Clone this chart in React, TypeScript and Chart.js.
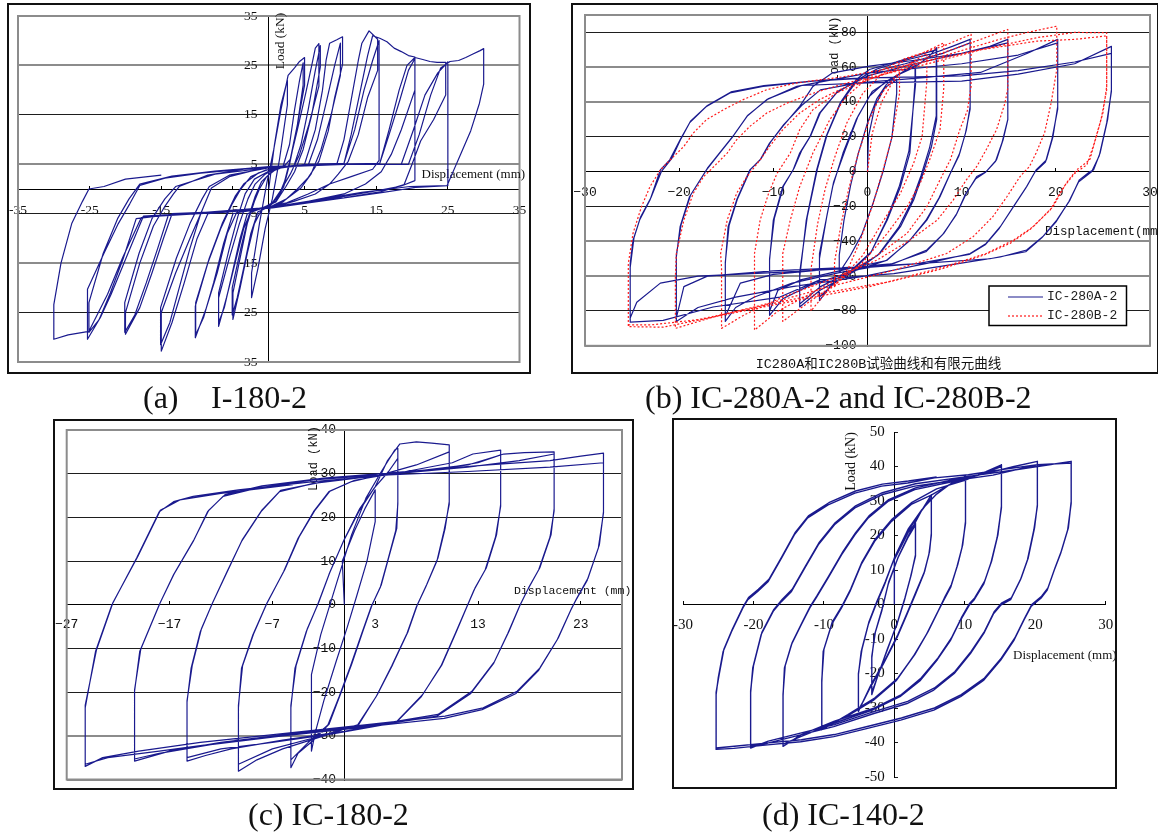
import React, { useEffect, useRef } from 'react';
import { Chart, registerables } from 'chart.js';
Chart.register(...registerables);

type Pt = [number, number];

// ---------------- DATA ----------------
// (a) I-180-2 : displacement (mm), load (kN)
const I180_2: Pt[] = [
  [0,0],[0.8,9],[1.7,17],[2.6,22],[2.6,17],[1.5,6],[0.5,-2],[-0.5,-8],[-1.5,-16],[-2.4,-22],
  [-2.4,-17],[-1.3,-7],[-0.3,1],[0.7,8],[1.7,16],[2.7,23],
  [3.6,24.5],[4.3,25.8],[5,26.6],
  [5,21],[4,13],[3,6],[2.2,1.5],[1.5,-1],[0.5,-3],[-1,-4.2],
  [-2,-7],[-3,-13],[-4,-20],[-5,-26.4],
  [-5,-21],[-4,-14],[-3,-7],[-2,-2.5],[-1.3,0],[-0.3,2.5],[1,4],[2,4.6],
  [2.9,9],[3.6,16],[4.3,22],[4.8,25.5],
  [4.8,21],[3.9,12],[2.9,5],[2.1,0.5],[1,-2.5],[-0.5,-4],[-1.5,-4.6],
  [-2.5,-9],[-3.5,-16],[-4.4,-22],[-5.1,-25.5],
  [-5.1,-20],[-3.9,-12],[-2.9,-6],[-1.9,-1.5],[-1,1.5],[0.5,3.6],[2,4.4],
  [3,6],[4,12],[5.1,19],[6,25],[6.5,28.5],[7,29.4],
  [7,20.8],[5.6,13],[4.3,7],[3,3],[1.8,0],[0.5,-2.8],[-1,-4],[-2.5,-4.6],
  [-3.5,-8],[-4.7,-15],[-5.9,-22],[-7,-27.8],
  [-7,-22],[-5.5,-14],[-4.1,-7],[-2.9,-2],[-1.9,1],[-0.5,3],[1,4.2],[3.5,4.6],
  [4.5,9],[5.5,16],[6.5,24],[7.2,29],
  [7.2,24.7],[6,15],[4.8,8],[3.6,3.5],[2.4,0.5],[1,-2.6],[-1.5,-4.2],[-3,-5],
  [-4,-10],[-5.1,-17],[-6.2,-24],[-7,-27],
  [-7,-21],[-5.5,-12],[-4.3,-5.5],[-3.3,-1],[-2,2],[0.5,4],[3.5,4.6],[5,5],
  [6.5,12],[7.5,20],[8,26],[8.5,29.5],[9.5,30.2],[10.3,30.8],
  [10.3,25.2],[9.2,18.5],[8.3,11.7],[7,5.6],[5.5,2.3],[4,0],[2,-2.6],[0.5,-3.6],[-2.5,-4.4],[-4.5,-4.8],
  [-5.8,-9],[-7.2,-17],[-8.7,-24],[-10.25,-30.1],
  [-10.25,-23.7],[-8.5,-15],[-6.7,-8],[-5.1,-3],[-3.9,0],[-2.5,2.5],[-0.5,3.8],[2.5,4.4],[5.5,4.8],
  [6.8,10],[8.1,18],[9.2,25],[10,29.5],
  [10,23],[8.7,15],[7.3,8],[5.9,3],[4.5,0.2],[2.5,-2],[0.5,-3.4],[-2.5,-4.2],[-5,-5],
  [-6.3,-11],[-7.7,-19],[-9.1,-26],[-10.2,-29.5],
  [-10.2,-23],[-8.3,-14],[-6.5,-7],[-4.7,-1.5],[-3.5,1],[-1.5,3.2],[0.5,4.2],[4.5,4.8],[9.5,5],
  [10.5,10],[11.5,18],[12.5,26],[13,29.5],[14,32],[15.2,30.3],
  [15.2,24],[13.8,18.5],[12.5,11],[11.1,5.6],[9.7,3],[8.5,1],[6.5,-1],[3.5,-2.5],[0.5,-3.7],[-3.5,-4.4],[-8.5,-5],
  [-10,-10],[-11.8,-19],[-13.5,-27],[-15,-32.8],
  [-15,-25],[-13,-17],[-11,-10],[-9.5,-5],[-8.5,-1.5],[-8,0.2],[-5.5,2.5],[-2.5,3.6],[0.5,4.4],[5.5,5],[10.5,5.2],
  [12,12],[13.3,20],[14.5,26],[15.4,30],
  [15.4,5.8],[14.5,4],[11.5,2.5],[8.5,1],[5.5,-1],[2.5,-2.8],[-1.5,-4],[-6.5,-4.6],[-9.5,-5],
  [-11,-12],[-12.5,-20],[-13.8,-27],[-15.1,-31.5],
  [-15.1,-24],[-12.9,-14],[-11,-7],[-9.3,-2],[-8.3,0.5],[-5.5,2.8],[0.5,4.4],[8.5,5],[10.5,5.2],
  [11.5,11],[12.8,20],[13.8,27],[14.5,31],[15.5,30.5],[16.5,29.8],[17.5,28.5],[18.5,27.8],[19.5,27],[20.4,26.7],
  [20.4,20],[18.5,12],[17.1,7],[15.7,3.5],[13.5,1],[10.5,-1],[5.5,-2.5],[0.5,-3.8],[-5.5,-4.5],[-13.5,-5],
  [-14.7,-10],[-16.3,-17],[-18,-24],[-20,-29.4],
  [-20,-25],[-18,-15],[-16.1,-7.5],[-14.5,-3.5],[-13.3,-1],[-12.5,0.5],[-8.5,2.8],[-3.5,4],[0.5,4.5],[8.5,5],[15.5,5.2],
  [16.8,11],[18.3,18],[19.5,24],[20.4,26.4],
  [20.4,1.7],[18.5,0.6],[14.5,-0.5],[10.5,-1.5],[5.5,-2.6],[0.5,-3.8],[-7.5,-4.8],[-14,-5.2],
  [-15.5,-12],[-17.1,-19],[-18.7,-25.5],[-20.1,-29],
  [-20.1,-23],[-18.1,-13],[-16.3,-6],[-14.5,-2],[-13,0.5],[-7.5,3],[0.5,4.4],[10.5,5],[15.5,5.2],
  [16.8,12],[18.2,20],[19.3,25],[20.4,26.6],[21.5,26.2],[22.5,25.8],[23.5,25.6],[24.7,25.6],
  [24.7,19],[23,14],[21.2,9.7],[20,5],[18.9,0.9],[15.5,-0.6],[10.5,-1.8],[4.5,-3],[0.5,-3.8],[-7.5,-4.6],[-17.5,-5.5],
  [-19.9,-13.9],[-22,-21.3],[-23.5,-26],[-25.3,-30.4],
  [-25.3,-20.3],[-23,-13],[-21,-7],[-19.4,-3],[-18,0.7],[-14.5,2.2],[-9.5,3.2],[-3.5,4],[0.5,4.5],[10.5,5],[18.5,5],
  [20.2,12],[21.8,19],[23.6,23.5],[25,25.7],
  [25,0.7],[20.5,0.3],[15.5,-0.8],[10.5,-1.8],[6.4,-2.4],[0.5,-3.7],[-7.5,-4.8],[-15.5,-5.5],[-18.5,-6],
  [-20.3,-14],[-22.1,-21],[-23.7,-26.5],[-25.1,-29],
  [-25.1,-23],[-23.1,-13],[-21.1,-6],[-19.5,-2],[-18,1],[-13.5,2.6],[-7.5,3.6],[0.5,4.6],[10.5,5],[19.5,5],
  [21,11],[22.6,19],[24,24.5],[25.3,25.8],[26.5,26],[27.5,26.6],[28.5,27.3],[29.5,28],[30,28.4],
  [30,21.2],[29.4,17.3],[28.2,11.8],[26.8,7.1],[25.4,2.4],[24.9,0.7],[19.7,0.5],[13,-0.7],[5.9,-2.4],[0.2,-3.7],[-8,-4.6],[-17.8,-5.8],
  [-20.4,-13.9],[-22.5,-21.3],[-25.1,-28.8],[-28,-29.5],[-30,-30.4],
  [-30,-23.4],[-29,-15],[-27.5,-7],[-26,-2.5],[-25.1,0],[-23,0.5],[-20,2],[-15,2.8],
];

// (b) IC-280A-2 (test, solid blue)
const IC280A_2: Pt[] = [
  [0,0],[0.1,20],[0.8,38],[1.8,48],[3.1,53],
  [3.1,45],[2.6,20],[1.7,1],[0.6,-18],[-0.6,-36],[-1.8,-48],[-3,-58],
  [-3,-48],[-2.5,-28],[-1.8,-8],[-1,10],[0,28],[1,42],[2,50],[3.1,55],
  [4.2,59],[5.05,62.5],
  [5.05,52],[4.5,10.7],[3.5,-8.6],[2.1,-27.8],[0.3,-47],[-1.5,-56],[-3.5,-64],[-5.1,-72],
  [-5.1,-47],[-4.4,-27.8],[-3.7,-8.6],[-2.6,10.7],[-1.2,29.9],[0.2,43.3],[2,52],[4,58],[5.1,61],
  [5.1,50],[4.4,12],[3.4,-8],[2,-28],[0.4,-46],[-2,-58],[-4,-66],[-5.1,-74],
  [-5.1,-50],[-4.3,-25],[-3.6,-6],[-2.4,12],[-1,32],[0.5,46],[3,55],
  [5,60],[6.5,66],[7.35,71.2],
  [7.35,30],[6.8,14.5],[5.9,-0.9],[4.9,-16.3],[3.5,-31.6],[1.3,-47],[-1,-56],[-3,-62],[-5,-68],[-7.2,-77.7],
  [-7.2,-60.5],[-6.5,-27.8],[-5.4,1],[-4.4,20.2],[-2.9,39.5],[-1.2,52.9],[0.2,58.7],[3,63],[6,68],[7.3,70],
  [7.3,32],[6.6,14],[5.7,-2],[4.7,-17],[3.3,-32],[1.1,-48],[-2,-58],[-5,-66],[-7.2,-76],
  [-7.2,-58],[-6.4,-26],[-5.3,2],[-4.3,21],[-2.8,40],[-1,53],[1,59],[4,64],
  [7,68],[9,72],[10.9,76],
  [10.9,37.5],[10.5,24],[9.8,10.7],[8.8,-0.9],[7.7,-14.4],[6.3,-27.8],[4.5,-39.3],[2.1,-50.8],[-2,-58],[-6,-65],[-9,-73],[-10.4,-82.5],
  [-10.4,-50.8],[-10,-27.8],[-9,-8.6],[-7.9,1],[-7.2,10.7],[-6.1,20.2],[-5.1,33.7],[-3.3,45.2],[0.2,56.8],[4,62],[8,68],[10.9,74],
  [10.9,36],[10.4,22],[9.7,9],[8.7,-2],[7.6,-15],[6.2,-28],[4.4,-40],[2,-51],[-3,-57],[-7,-62],[-9.5,-68],[-10.4,-80],
  [-10.4,-50],[-9.9,-27],[-8.9,-8],[-7.8,2],[-7,12],[-6,21],[-5,34],[-3.2,46],[0,55],[5,62],
  [10,68],[13,72],[14.9,76],
  [14.9,29.9],[14.4,18.3],[13.7,6.8],[12.6,0],[11.6,-2.8],[10.5,-12.4],[9.5,-23.9],[8.1,-35.4],[6.3,-45],[2.8,-52.7],[-3,-58],[-8,-64],[-12,-72],[-14,-78],[-15.1,-86],
  [-15.1,-52.7],[-14.8,-31.6],[-13.9,-16.3],[-12.5,1],[-11.4,6.8],[-10.4,16.4],[-9,26],[-7.2,37.5],[-5.8,49],[-3.7,56.8],[0.2,60.6],[5,64],[10,68],[14.9,74],
  [14.9,30],[14.3,17],[13.6,6],[12.5,-0.5],[11.5,-4],[10.4,-13],[9.4,-25],[8,-36],[6.2,-46],[2.5,-53],[-4,-56],[-10,-59],[-13.5,-64],[-15.1,-83],
  [-15.1,-52],[-14.7,-31],[-13.8,-15.5],[-12.4,1.5],[-11.3,7.5],[-10.3,17],[-8.9,27],[-7,38],[-5,47],[-1,51],[6,54],[12,57],
  [17,68],[20.2,76],
  [20.2,37.5],[19.7,20.2],[19,6.8],[17.9,1],[16.9,-8.6],[15.5,-20.1],[14.1,-31.6],[12.6,-41.2],[10.9,-47],[6.3,-52.7],[-0.8,-60.5],[-8,-66],[-14,-72],[-18,-78],[-20.3,-86],
  [-20.3,-49],[-19.9,-31.6],[-18.9,-14.4],[-17.1,1],[-15.7,10.7],[-14.3,20.2],[-12.8,31.8],[-10.7,41.4],[-7.5,49],[0.2,56.8],[10,62],[16,67],[20.2,74],
  [20.2,36],[19.6,19],[18.9,5.5],[17.8,0],[16.8,-9.5],[15.4,-21],[14,-32.5],[12.5,-42],[10.8,-47.5],[5,-53],[-2,-55],[-10,-57],[-17,-60],[-19.5,-66],[-20.3,-84],
  [-20.3,-48],[-19.8,-30.5],[-18.8,-13.5],[-17,2],[-15.6,11.5],[-14.2,21],[-12.7,32.5],[-10.5,42],[-7,49.5],[0,51],[10,52],[16,56],[22,62],
  [25.9,72],
  [25.9,47],[25.5,29.9],[24.7,10.7],[24,1],[23.6,0],[22.5,-4.7],[21.5,-16.3],[20.1,-27.8],[18.6,-37.4],[16.9,-45],[14.1,-49],[9.8,-52.7],[2.8,-58.5],[-5,-62],[-9.3,-72],[-16.4,-77.7],[-21.7,-85.4],[-25.2,-86.4],
  [-25.2,-52.7],[-24.9,-39.3],[-24.2,-27.8],[-23.1,-16.3],[-22,1],[-21,6.8],[-19.9,18.3],[-18.9,28],[-17.1,37.5],[-14.6,45.2],[-11.1,49],[-5.8,52],[0.2,53.9],[10,55],[16,58],[22,63],[25.9,68],
  [25.9,46],[25.4,28],[24.6,9],[23.8,0],[22.4,-6],[21.4,-17],[20,-29],[18.5,-38],[16.8,-46],[13,-50],[5,-53],[0,-55],[-10,-58],[-18,-60],[-22,-64],[-24.5,-75],[-25.2,-84],
  [-25.2,-55],[-24.8,-38],[-24.1,-26],[-23,-15],[-21.9,0],[-20.8,7.5],[-19.8,19],[-18.8,29],[-17,38],[-14.5,45.8],[-11,49.5],[-5,52.5],[0,54],
];

// (b) IC-280B-2 (finite element, dotted red)
const IC280B_2: Pt[] = [
  [0,0],[0.5,22],[1.5,40],[2.5,50],[3.4,56],
  [3.4,45],[2.6,20],[1.6,0],[0.5,-20],[-0.8,-40],[-2,-55],[-3.5,-66],
  [-3.5,-52],[-2.8,-30],[-2,-10],[-1,10],[0.2,30],[1.5,45],[3,55],[4.5,62],[6.3,68],
  [6.3,52],[5.8,20.2],[4.9,4.9],[3.5,-12.4],[1.3,-31.6],[-0.5,-48],[-2.5,-60],[-4.5,-70],[-6,-80],
  [-6,-56],[-5.3,-30],[-4.5,-10],[-3.5,8],[-2.2,28],[-0.5,45],[1.5,56],[4,64],[6.2,69],[8.1,74],
  [8.1,48],[7.7,24.1],[6.6,6.8],[5.6,-6.6],[4.2,-20.1],[2.1,-35.4],[-0.5,-52],[-3,-63],[-6,-74],[-9,-86],
  [-9,-47],[-8.2,-27.8],[-7.2,-8.6],[-5.8,10.7],[-4,29.9],[-2.2,43.3],[0.2,54.8],[4,65],[8,72],[11,78.9],
  [11,49],[10.6,35],[9.8,24.1],[8.8,6.8],[7.7,-4.7],[6.3,-20.1],[4.2,-35.4],[1.3,-47],[-2,-58],[-6,-70],[-9.5,-80],[-12,-91],
  [-12,-47],[-11.4,-27.8],[-10.5,-12.4],[-9.6,-0.9],[-8.2,10.7],[-7.2,24.1],[-5.8,35.6],[-3.3,45.2],[0.2,52.9],[5,63],[10,72],[14.9,81.7],
  [14.9,48],[14.6,39.5],[13.7,24.1],[12.6,12.6],[11.6,3],[10.5,-4.7],[9.1,-16.3],[7.4,-27.8],[4.5,-39.3],[1,-50.8],[-4,-62],[-9,-72],[-13,-82],[-15.5,-90],
  [-15.5,-55],[-15.6,-47],[-14.9,-27.8],[-13.9,-12.4],[-12.8,-2.8],[-11.4,6.8],[-10.4,14.5],[-9,24.1],[-7.2,33.7],[-5.1,41.4],[-2.2,49],[3,58],[9,68],[14,76],[17,80],[20.1,83.6],
  [20.1,58.7],[19.5,39.5],[18.8,22.2],[17.9,10.7],[17.2,3],[16.2,-2.8],[14.8,-14.4],[13.3,-25.9],[11.2,-37.4],[8.4,-47],[2.8,-56.6],[-4,-66],[-10,-75],[-16.4,-83.5],[-20.4,-90],
  [-20.4,-60],[-20.3,-47],[-19.5,-27.8],[-18.5,-12.4],[-17.4,-2.8],[-16.3,3],[-14.9,10.7],[-13.9,18.3],[-12.5,26],[-10.7,33.7],[-8.5,39.5],[-5.7,45.2],[-2.2,51],[5,60],[12,70],[18,77],[22,80],[25.4,79.8],
  [25.4,49],[25,33.7],[24.3,20.2],[23.6,6.8],[22.2,1],[21.1,-6.6],[19.7,-20.1],[17.6,-31.6],[15.5,-39.3],[12.6,-47],[8.1,-54.7],[2.8,-62.4],[0.2,-66],[-9.3,-75.8],[-16.4,-83.5],[-21.7,-89.3],[-25.4,-89],
  [-25.4,-52.7],[-24.9,-35.4],[-24,-20.1],[-23.1,-8.6],[-22,1],[-20.6,8.7],[-19.5,14.5],[-18.5,22.2],[-17.1,29.9],[-15.3,35.6],[-13.2,41.4],[-10.7,47.1],[-7.5,51],[-2.2,54.8],[5,62],[12,70],[18,75],[22,76],[25.4,78],
  [25.4,47],[24.8,30],[24,15],[23.3,4],[22,-1],[20.8,-9],[19.4,-22],[17.3,-33],[15.2,-41],[12.3,-48],[7.8,-56],[2.5,-63],[-5,-70],[-12,-78],[-18,-85],[-23,-88],[-25.4,-88],
];

// (c) IC-180-2
const IC180_2: Pt[] = [
  [0,0],[-0.2,10],[1,17],[2,22],[3,26.3],
  [3,19],[2.2,10],[1.2,2],[0.3,-5],[-0.8,-13],[-2,-22],[-2.8,-29],[-3.2,-33.5],
  [-3.2,-16],[-2.3,-6.9],[-0.8,4.6],[0.7,16],[2.1,24.4],[3.6,30.5],[4.9,35.4],[5.2,35.8],
  [5.2,23.6],[5.1,17.5],[4.3,10.7],[3.6,4.6],[2.7,0],[1.8,-6.1],[0.7,-13.7],[-0.4,-20.6],[-1.5,-27.4],[-3,-31],[-4.5,-34],[-5.2,-37.3],
  [-5.2,-23.6],[-4.8,-14.5],[-3.7,-6.1],[-2.6,0],[-1.5,6.9],[-0.1,14.5],[1.4,21.3],[2.9,26.7],[4.3,30.5],[5.2,33.5],
  [5.2,23],[5,17],[4.2,10],[3.5,4],[2.6,-0.5],[1.7,-6.5],[0.6,-14],[-0.5,-21],[-1.6,-27.5],[-3.5,-31.5],[-5.2,-35.5],
  [-5.2,-23],[-4.7,-14],[-3.6,-5.5],[-2.5,0.5],[-1.4,7.5],[0,15],[1.5,22],[3,27],[4.2,33],[5.4,36.8],[7,37.3],[8.5,37],[10.2,36.6],
  [10.2,23.6],[9.8,17.5],[9.1,10.7],[8,4.6],[7.1,0],[6.2,-6.1],[4.7,-13.7],[3.2,-20.6],[1.4,-27.4],[-2,-30],[-6,-33],[-8.5,-35.5],[-10.3,-38.1],
  [-10.3,-23.6],[-10,-14.5],[-8.9,-6.9],[-7.6,0],[-5.9,7.6],[-4.5,15.2],[-3,21.3],[-1.5,25.9],[0.7,28.2],[4,30],[7,32],[10.2,35],
  [10.2,23],[9.7,17],[9,10],[7.9,4],[7,-0.5],[6.1,-6.5],[4.6,-14],[3.1,-21],[1.3,-27.5],[-3,-30.5],[-7,-33],[-10.3,-36.5],
  [-10.3,-23],[-9.9,-14],[-8.8,-6.5],[-7.5,0.5],[-5.8,8],[-4.4,15.5],[-2.9,21.5],[-1.4,26],[1,28.5],[6,30.5],[10.5,32.5],[12.5,34.5],[15.2,35.4],
  [15.2,22.9],[14.8,16],[13.8,8.4],[12.7,3.8],[12,0],[10.9,-6.1],[9.5,-13.7],[7.6,-20.6],[5.1,-26.7],[0,-29],[-6,-31],[-11,-33],[-13.5,-34.5],[-15.3,-35.8],
  [-15.3,-22.3],[-14.9,-14.5],[-14,-6.1],[-12.9,0],[-11.4,7.6],[-10,14.5],[-8.1,21.3],[-6.3,25.9],[-3,27.8],[3,29.5],[9,31],[13,32.5],[15.2,34.3],
  [15.2,22.5],[14.7,15.5],[13.7,8],[12.6,3.3],[11.9,-0.5],[10.8,-6.5],[9.4,-14],[7.5,-21],[5,-27],[-1,-29.5],[-7,-31.5],[-12,-33],[-15.3,-35],
  [-15.3,-22],[-14.8,-14],[-13.9,-5.5],[-12.8,0.5],[-11.3,8],[-9.9,15],[-8,21.7],[-6.2,26.2],[-2,28.2],[5,30],[12,32],[15.5,34.5],[17.5,34.8],[20.4,35],
  [20.4,22],[20.1,16],[19,8.4],[17.9,3.8],[17.1,0],[16,-6.1],[14.6,-13],[12.4,-19.8],[9.1,-25.1],[3,-27.5],[-5,-29.5],[-12,-31.5],[-17,-33.5],[-20.4,-35.8],
  [-20.4,-19.8],[-19.9,-10.7],[-18,0],[-16.6,6.9],[-14.7,14.5],[-13.3,21.3],[-11.8,24.8],[-8.5,26.7],[-3,28.6],[5,30],[12,31.5],[17,33],[20.4,34.5],
  [20.4,21.5],[20,15.5],[18.9,8],[17.8,3.3],[17,-0.5],[15.9,-6.5],[14.5,-13.5],[12.3,-20.3],[9,-25.5],[2,-28],[-6,-30],[-13,-32],[-18,-34],[-20.4,-35.3],
  [-20.4,-19.5],[-19.8,-10.2],[-17.9,0.5],[-16.5,7.3],[-14.6,15],[-13.2,21.6],[-11.6,25.2],[-8,27.2],[-2,29],[6,30.5],[14,32],[20,33],[23,34],[25.2,34.7],
  [25.2,21.3],[24.8,13.7],[23.7,6.1],[22.6,1.5],[22.1,-0.8],[20.8,-7.6],[19,-14.5],[16.8,-19.8],[13.5,-23.6],[9.8,-25.5],[2,-27.5],[-6,-29.5],[-14,-31.5],[-20,-33.5],[-23.5,-35],[-25.2,-37],
  [-25.2,-23.6],[-24.2,-10.7],[-22.6,0],[-20.2,10.7],[-18,21.3],[-16.6,23.6],[-14.7,24.8],[-10.3,26.3],[-3,28.2],[4.3,29.7],[12,30.5],[20,31.5],[25.2,32.5],
  [25.2,21],[24.7,13],[23.6,5.5],[22.5,1],[22,-1.3],[20.7,-8],[18.9,-15],[16.7,-20.3],[13.4,-24],[9.7,-26],[0,-28.5],[-10,-31],[-18,-33.5],[-23,-35],[-25.2,-36.5],
  [-25.2,-23],[-24.1,-10.3],[-22.5,0.5],[-20.1,11],[-17.9,21.6],[-16,24],[-12,25.5],[-5,27.5],
];

// (d) IC-140-2
const IC140_2: Pt[] = [
  [0,0],[0,13],[1,17],[2,21],[3,23.6],
  [3,14.4],[2.4,8.7],[1.5,1.9],[0.5,-4.8],[-0.9,-12.6],[-2.3,-20.3],[-3.2,-26.1],
  [-3.2,-15.5],[-2.8,-8.7],[-1.8,-2],[-0.9,5.7],[0.5,13.5],[1.9,19.3],[3,23.1],
  [3,14],[2.3,8],[1.4,1],[0.4,-5.5],[-1,-13],[-2.4,-21],[-3.2,-25.5],
  [-3.2,-15],[-2.7,-8],[-1.7,-1],[-0.8,6.5],[0.6,14],[2,20],[3.8,27],[5.25,31.8],
  [5.25,20.7],[5,15.4],[4.3,9.6],[3.1,3.8],[1.9,-2],[0.5,-8.7],[-1.4,-16.4],[-3.3,-23.2],[-4.3,-27.5],[-5.1,-31],
  [-5.1,-20.3],[-4.7,-13.6],[-3.7,-5.8],[-2.6,0],[-1.4,5.7],[0,13.5],[1.9,21.2],[3.8,27],[5.25,30.9],
  [5.25,20],[4.9,14.5],[4.2,9],[3,3],[1.8,-2.8],[0.4,-9.5],[-1.5,-17],[-3.4,-24],[-4.4,-28],[-5.1,-30.5],
  [-5.1,-20],[-4.6,-13],[-3.6,-5],[-2.5,0.8],[-1.3,6.5],[0.1,14],[2,22],[3.9,27.5],[6,32],[8,35],[10.1,37.2],
  [10.1,24.1],[9.7,17.3],[9,11.6],[8.1,5.8],[7.1,1.9],[6.2,-2],[4.8,-7.8],[2.9,-14.5],[0.5,-21.3],[-2.8,-27.1],[-6.6,-31.9],[-10.3,-36.3],
  [-10.3,-22.7],[-10.1,-13.6],[-8.9,-5.8],[-7.5,-1],[-6.3,3.8],[-4.7,11.6],[-2.8,18.3],[-0.4,24.1],[2.4,29],[5.3,31.8],[8,35],[10.1,36.5],
  [10.1,23.5],[9.6,16.5],[8.9,11],[8,5],[7,1.2],[6,-2.8],[4.6,-8.5],[2.7,-15],[0.3,-22],[-3,-27.8],[-6.8,-32.5],[-10.3,-35.5],
  [-10.3,-22],[-10,-13],[-8.8,-5],[-7.4,-0.3],[-6.2,4.5],[-4.6,12.3],[-2.7,19],[-0.3,24.8],[2.5,29.6],[6,33.5],[10,36],[13,38.5],[15.2,40.5],
  [15.2,28.5],[14.7,20.2],[13.8,12.5],[12.8,6.7],[11.4,1.9],[10.7,0.4],[9.5,-3.9],[8.1,-9.7],[6.2,-15.5],[3.8,-21.3],[1,-26.1],[-2.8,-30],[-8.5,-33.8],[-13.2,-37.7],[-15.8,-41.1],
  [-15.8,-26.6],[-15.6,-18.4],[-14.6,-11.6],[-13.2,-5.8],[-12,-1],[-11.1,1.9],[-9.4,7.7],[-7.5,14.4],[-5.6,20.2],[-3.7,25.1],[-0.9,29.9],[2.9,33.3],[8,35.5],[12,37.5],[15.2,40],
  [15.2,28],[14.6,19.5],[13.7,12],[12.7,6],[11.3,1.3],[10.6,-0.3],[9.4,-4.5],[8,-10.3],[6.1,-16],[3.7,-22],[0.8,-26.7],[-3,-30.5],[-8.7,-34.5],[-13.3,-38.3],[-15.8,-40.5],
  [-15.8,-26],[-15.5,-17.8],[-14.5,-11],[-13.1,-5.2],[-11.9,-0.4],[-11,2.5],[-9.3,8.3],[-7.4,15],[-5.5,20.8],[-3.6,25.7],[-0.8,30.4],[3,33.8],[8,36],[13,38],[17,40],[20.3,41.5],
  [20.3,28.9],[19.9,22.2],[19,13.5],[18,7.7],[16.6,1.9],[15.2,0.4],[14.2,-2],[12.8,-7.8],[10.9,-13.6],[8.6,-19.4],[5.7,-24.2],[1.9,-28.1],[-2.8,-31],[-8.5,-34.8],[-13.2,-37.2],[-17.9,-39.6],[-20.4,-41.6],
  [-20.4,-25.6],[-20.1,-18.4],[-18.9,-8.7],[-17.2,-2],[-16,0.9],[-14.6,3.8],[-12.7,10.6],[-10.8,17.3],[-8.5,23.1],[-5.6,28],[-1.8,31.8],[2.9,34.3],[8,35.8],[14,37.5],[20.3,40.5],
  [20.3,28.5],[19.8,21.6],[18.9,13],[17.9,7.2],[16.5,1.4],[15.1,-0.2],[14.1,-2.6],[12.7,-8.4],[10.8,-14.2],[8.5,-20],[5.6,-24.8],[1.8,-28.7],[-2.9,-31.6],[-8.6,-35.4],[-13.3,-37.8],[-18,-40.2],[-20.4,-41],
  [-20.4,-25],[-20,-17.8],[-18.8,-8.1],[-17.1,-1.4],[-15.9,1.5],[-14.5,4.4],[-12.6,11.2],[-10.7,17.9],[-8.4,23.7],[-5.5,28.6],[-1.7,32.4],[3,35],[10,37],[17,39],[22,40.5],[25.1,41.5],
  [25.1,29.9],[24.7,22.2],[23.7,15.4],[22.8,10.6],[21.8,4.8],[20.9,2.4],[19.5,0],[18.5,-3.9],[17.1,-9.7],[15.2,-15.5],[12.8,-21.3],[9.5,-26.1],[5.7,-30],[1,-32.9],[-3.7,-35.3],[-8.5,-37.7],[-13.2,-39.2],[-17.9,-40.1],[-22.7,-41.1],[-25.3,-41.6],
  [-25.3,-26.1],[-25,-21.3],[-24.3,-13.6],[-23.1,-7.8],[-21.5,-1],[-20.8,1.4],[-19.4,3.8],[-17.9,6.7],[-16,13.5],[-14.2,20.2],[-12.3,25.1],[-9.4,28.9],[-5.6,32.3],[-1.8,34.3],[1.9,35.2],[5.7,36.7],[10.5,37.6],[15.2,39.1],[20.3,40.5],[25.1,41],
  [25.1,29.3],[24.6,21.6],[23.6,14.8],[22.7,10],[21.7,4.2],[20.8,1.8],[19.4,-0.6],[18.4,-4.5],[17,-10.3],[15.1,-16.1],[12.7,-21.9],[9.4,-26.7],[5.6,-30.6],[0.9,-33.5],[-3.8,-35.9],[-8.6,-38.3],[-13.3,-39.8],[-18,-40.7],[-22.8,-41.7],[-25.3,-42],
  [-25.3,-25.5],[-24.9,-20.7],[-24.2,-13],[-23,-7.2],[-21.4,-0.4],[-20.7,2],[-19.3,4.4],[-17.8,7.3],[-15.9,14.1],[-14.1,20.8],[-12.2,25.7],[-9.3,29.5],[-5.5,32.9],[-1.7,34.9],[2,35.8],[6,37],
];

// tick labels
const A_X_TICKS = [-35, -25, -15, -5, 5, 15, 25, 35];
const A_Y_TICKS = [-35, -25, -15, -5, 5, 15, 25, 35];
const B_X_TICKS = [-30, -20, -10, 0, 10, 20, 30];
const B_Y_TICKS = [-100, -80, -60, -40, -20, 0, 20, 40, 60, 80];
const C_X_TICKS = [-27, -17, -7, 3, 13, 23];
const C_Y_TICKS = [-40, -30, -20, -10, 0, 10, 20, 30, 40];
const D_X_TICKS = [-30, -20, -10, 0, 10, 20, 30];
const D_Y_TICKS = [-50, -40, -30, -20, -10, 0, 10, 20, 30, 40, 50];

const SERIES_A_LABEL = 'IC-280A-2';
const SERIES_B_LABEL = 'IC-280B-2';

// ---------------- LAYOUT / STYLE ----------------
const M = 16;
const BLUE = '#1a1a8e';
const RED = '#ff1a1a';
const GRAY = '#8c8c8c';
const DARK = '#1e1e1e';

interface TextSpec { text: string; x: number; y: number; font: string; rotate?: boolean; }
interface SeriesSpec { label: string; data: Pt[]; color: string; dash?: number[]; order: number; width: number; }
interface PanelSpec {
  frame: { l: number; t: number; w: number; h: number };
  area: { l: number; t: number; r: number; b: number };
  xMin: number; xMax: number; yMin: number; yMax: number;
  xTicks: number[]; yTicks: number[];
  fontFamily: string; fontSize: number; minus: string;
  xPad: number; yGap: number;
  grid: boolean; grayGrid: number[];
  plotBorder: boolean;
  texts: TextSpec[];
  series: SeriesSpec[];
  legend?: { l: number; t: number; r: number; b: number; lx1: number; lx2: number; tx: number; ys: number[]; font: string };
}

const PANELS: PanelSpec[] = [
  {
    frame: { l: 7, t: 3, w: 524, h: 371 },
    area: { l: 18, t: 16, r: 519.5, b: 362 },
    xMin: -35, xMax: 35, yMin: -35, yMax: 35,
    xTicks: A_X_TICKS, yTicks: A_Y_TICKS,
    fontFamily: '"Liberation Serif", "Times New Roman", serif', fontSize: 13.5, minus: '-',
    xPad: 17.2, yGap: 1.56,
    grid: true, grayGrid: [35, 25, 5, -15, -35],
    plotBorder: true,
    texts: [
      { text: 'Load (kN)', x: 280.5, y: 41, font: '13.5px "Liberation Serif"', rotate: true },
      { text: 'Displacement (mm)', x: 421.5, y: 175, font: '13px "Liberation Serif"' },
    ],
    series: [{ label: 'I-180-2', data: I180_2, color: BLUE, order: 0, width: 1.2 }],
  },
  {
    frame: { l: 571, t: 3, w: 588, h: 371 },
    area: { l: 585, t: 15, r: 1150.5, b: 345.8 },
    xMin: -30, xMax: 30, yMin: -100, yMax: 90,
    xTicks: B_X_TICKS, yTicks: B_Y_TICKS,
    fontFamily: '"Liberation Mono", monospace', fontSize: 13, minus: '\u2212',
    xPad: 17.2, yGap: 1.17,
    grid: true, grayGrid: [60, 40, -40, -60, -100],
    plotBorder: true,
    texts: [
      { text: 'Load (kN)', x: 835, y: 49, font: '12px "Liberation Mono"', rotate: true },
      { text: 'Displacement(mm)', x: 1045, y: 232, font: '12.5px "Liberation Mono"' },
    ],
    series: [
      { label: SERIES_A_LABEL, data: IC280A_2, color: BLUE, order: 1, width: 1.2 },
      { label: SERIES_B_LABEL, data: IC280B_2, color: RED, dash: [2, 2], order: 0, width: 1.2 },
    ],
    legend: { l: 989, t: 286, r: 1126.5, b: 325.5, lx1: 1008, lx2: 1043, tx: 1047, ys: [297, 316], font: '13px "Liberation Mono"' },
  },
  {
    frame: { l: 53, t: 419, w: 581, h: 371 },
    area: { l: 66.7, t: 430, r: 622, b: 779.5 },
    xMin: -27, xMax: 27, yMin: -40, yMax: 40,
    xTicks: C_X_TICKS, yTicks: C_Y_TICKS,
    fontFamily: '"Liberation Mono", monospace', fontSize: 13, minus: '\u2212',
    xPad: 16.2, yGap: 0.8,
    grid: true, grayGrid: [-30, 40, -40],
    plotBorder: true,
    texts: [
      { text: 'Load (kN)', x: 313.8, y: 458.5, font: '12px "Liberation Mono"', rotate: true },
      { text: 'Displacement (mm)', x: 514, y: 591.3, font: '11.5px "Liberation Mono"' },
    ],
    series: [{ label: 'IC-180-2', data: IC180_2, color: BLUE, order: 0, width: 1.2 }],
  },
  {
    frame: { l: 672, t: 418, w: 445, h: 371 },
    area: { l: 683, t: 432, r: 1105.7, b: 777 },
    xMin: -30, xMax: 30, yMin: -50, yMax: 50,
    xTicks: D_X_TICKS, yTicks: D_Y_TICKS,
    fontFamily: '"Liberation Serif", "Times New Roman", serif', fontSize: 15, minus: '-',
    xPad: 15.8, yGap: 1.36,
    grid: false, grayGrid: [],
    plotBorder: false,
    texts: [
      { text: 'Load (kN)', x: 851.3, y: 461.5, font: '14px "Liberation Serif"', rotate: true },
      { text: 'Displacement (mm)', x: 1013, y: 655.3, font: '13px "Liberation Serif"' },
    ],
    series: [{ label: 'IC-140-2', data: IC140_2, color: BLUE, order: 0, width: 1.4 }],
  },
];

function decorPlugin(s: PanelSpec, cl: number, ct: number) {
  return {
    id: 'decor',
    beforeDatasetsDraw(chart: any) {
      const { ctx, chartArea: a } = chart;
      ctx.save();
      if (s.plotBorder) {
        ctx.strokeStyle = GRAY;
        ctx.lineWidth = 2;
        ctx.strokeRect(a.left, a.top, a.right - a.left, a.bottom - a.top);
      }
      ctx.fillStyle = '#111';
      ctx.textBaseline = 'middle';
      for (const t of s.texts) {
        ctx.font = t.font;
        if (t.rotate) {
          ctx.save();
          ctx.translate(t.x - cl, t.y - ct);
          ctx.rotate(-Math.PI / 2);
          ctx.textAlign = 'center';
          ctx.fillText(t.text, 0, 0);
          ctx.restore();
        } else {
          ctx.textAlign = 'left';
          ctx.fillText(t.text, t.x - cl, t.y - ct);
        }
      }
      ctx.restore();
    },
    afterDatasetsDraw(chart: any) {
      const L = s.legend;
      if (!L) return;
      const { ctx } = chart;
      ctx.save();
      ctx.fillStyle = '#fff';
      ctx.fillRect(L.l - cl, L.t - ct, L.r - L.l, L.b - L.t);
      ctx.strokeStyle = '#000';
      ctx.lineWidth = 1.5;
      ctx.strokeRect(L.l - cl, L.t - ct, L.r - L.l, L.b - L.t);
      chart.data.datasets.forEach((ds: any, i: number) => {
        const y = L.ys[i] - ct;
        ctx.strokeStyle = ds.borderColor;
        ctx.lineWidth = 1.2;
        ctx.setLineDash(ds.borderDash || []);
        ctx.beginPath();
        ctx.moveTo(L.lx1 - cl, y);
        ctx.lineTo(L.lx2 - cl, y);
        ctx.stroke();
        ctx.setLineDash([]);
        ctx.fillStyle = '#222';
        ctx.font = L.font;
        ctx.textAlign = 'left';
        ctx.textBaseline = 'middle';
        ctx.fillText(ds.label, L.tx - cl, y);
      });
      ctx.restore();
    },
  };
}

function buildConfig(s: PanelSpec): any {
  const cl = s.frame.l - M, ct = s.frame.t - M;
  const cw = s.frame.w + 2 * M, ch = s.frame.h + 2 * M;
  const fmt = (v: any) => (Number(v) < 0 ? s.minus + Math.abs(Number(v)) : String(v));
  const setTicks = (vals: number[]) => (axis: any) => { axis.ticks = vals.map((v) => ({ value: v })); };
  const font = { family: s.fontFamily, size: s.fontSize };
  const isGray = (v: number) => s.grayGrid.indexOf(v) >= 0;
  return {
    type: 'scatter',
    data: {
      datasets: s.series.map((sr) => ({
        label: sr.label,
        data: sr.data.map(([x, y]) => ({ x, y })),
        showLine: true,
        borderColor: sr.color,
        backgroundColor: sr.color,
        borderWidth: sr.width,
        borderDash: sr.dash || [],
        borderJoinStyle: 'round',
        pointRadius: 0,
        pointHoverRadius: 0,
        tension: 0,
        fill: false,
        order: sr.order,
        xAxisID: 'x',
        yAxisID: 'y',
      })),
    },
    options: {
      animation: false,
      responsive: false,
      devicePixelRatio: 1,
      events: [],
      layout: { padding: { left: s.area.l - cl, top: s.area.t - ct, right: cl + cw - s.area.r, bottom: ct + ch - s.area.b } },
      plugins: { legend: { display: false }, tooltip: { enabled: false }, title: { display: false } },
      scales: {
        x: {
          type: 'linear', axis: 'x', min: s.xMin, max: s.xMax, position: { y: 0 },
          afterBuildTicks: setTicks(s.xTicks),
          ticks: { autoSkip: false, maxRotation: 0, minRotation: 0, padding: s.xPad, font, color: '#111', callback: fmt },
          grid: { display: true, drawOnChartArea: false, drawTicks: true, tickLength: -4, color: '#000', lineWidth: 1 },
          border: { display: true, color: '#000', width: 1 },
        },
        y: {
          type: 'linear', axis: 'y', min: s.yMin, max: s.yMax, position: { x: 0 },
          afterBuildTicks: setTicks(s.yTicks),
          ticks: { display: false },
          grid: {
            display: true, drawOnChartArea: s.grid, drawTicks: true, tickLength: -4,
            color: (c: any) => (s.grid && c.tick && isGray(c.tick.value) ? GRAY : DARK),
            lineWidth: (c: any) => (s.grid && c.tick && isGray(c.tick.value) ? 2 : 1),
          },
          border: { display: true, color: '#000', width: 1 },
        },
        yl: {
          type: 'linear', axis: 'y', min: s.yMin, max: s.yMax, position: { x: -s.yGap },
          afterBuildTicks: setTicks(s.yTicks),
          ticks: { autoSkip: false, font, color: '#111', callback: fmt },
          grid: { display: false },
          border: { display: false },
        },
      },
    },
    plugins: [decorPlugin(s, cl, ct)],
  };
}

function Panel({ spec }: { spec: PanelSpec }) {
  const ref = useRef<HTMLCanvasElement>(null);
  useEffect(() => {
    const c = ref.current;
    if (!c) return;
    const chart = new Chart(c, buildConfig(spec));
    return () => chart.destroy();
  }, [spec]);
  const cl = spec.frame.l - M, ct = spec.frame.t - M;
  const cw = spec.frame.w + 2 * M, ch = spec.frame.h + 2 * M;
  return (
    <>
      <canvas ref={ref} width={cw} height={ch} style={{ position: 'absolute', left: cl, top: ct, width: cw, height: ch }} />
      <div
        style={{
          position: 'absolute', left: spec.frame.l, top: spec.frame.t, width: spec.frame.w, height: spec.frame.h,
          border: '2px solid #111', boxSizing: 'border-box', pointerEvents: 'none',
        }}
      />
    </>
  );
}

const capStyle: React.CSSProperties = {
  position: 'absolute', fontFamily: '"Liberation Serif", "Times New Roman", serif', fontSize: 32,
  lineHeight: '32px', color: '#111', whiteSpace: 'pre',
};

export default function App() {
  return (
    <div style={{ position: 'fixed', left: 0, top: 0, width: 1158, height: 834, overflow: 'hidden', background: '#fff' }}>
      {PANELS.map((p, i) => <Panel key={i} spec={p} />)}
      <div style={{ ...capStyle, left: 143, top: 381 }}>(a)</div>
      <div style={{ ...capStyle, left: 211, top: 381 }}>I-180-2</div>
      <div style={{ ...capStyle, left: 645, top: 381 }}>(b) IC-280A-2 and IC-280B-2</div>
      <div style={{ ...capStyle, left: 248, top: 798 }}>(c) IC-180-2</div>
      <div style={{ ...capStyle, left: 762, top: 798 }}>(d) IC-140-2</div>
      <div
        style={{
          position: 'absolute', left: 700, width: 357, top: 357, textAlign: 'center', fontSize: 13.5, lineHeight: '16px',
          fontFamily: '"Liberation Mono", "Noto Sans CJK SC", monospace', color: '#111', whiteSpace: 'pre',
        }}
      >
        IC280A和IC280B试验曲线和有限元曲线
      </div>
    </div>
  );
}
